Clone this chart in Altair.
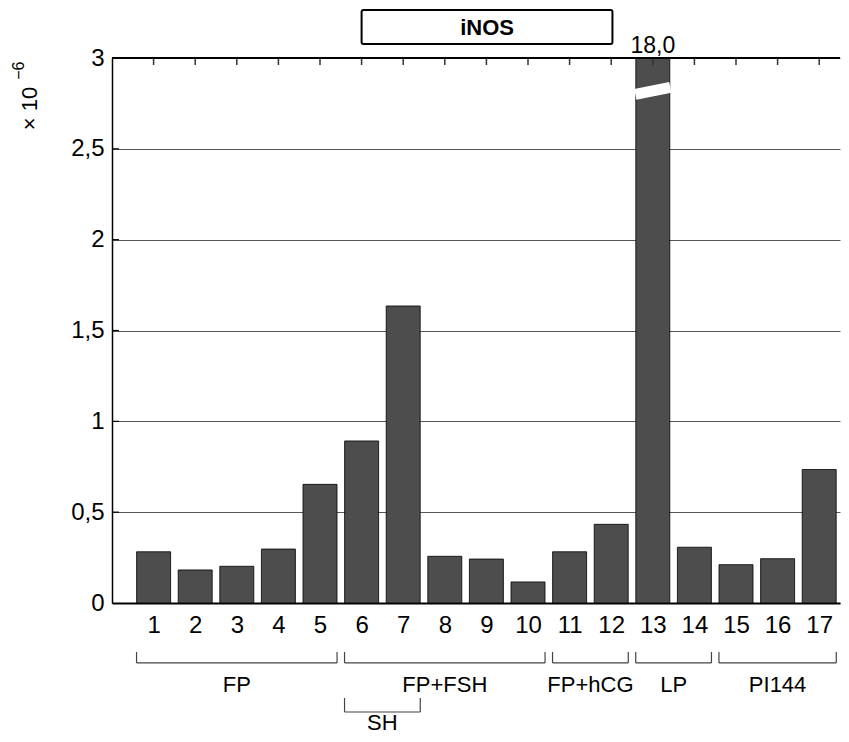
import altair as alt
import pandas as pd

# ---------------- data ----------------
bar_labels = list(range(1, 18))
values = [0.282, 0.182, 0.202, 0.297, 0.653, 0.892, 1.635, 0.257, 0.242,
          0.116, 0.282, 0.433, 18.0, 0.307, 0.211, 0.244, 0.735]
y_ticks = [0, 0.5, 1, 1.5, 2, 2.5, 3]

groups = ["FP", "FP+FSH", "FP+hCG", "LP", "PI144", "SH"]
group_start = [1, 6, 11, 13, 15, 6]
group_end = [5, 10, 12, 14, 17, 7]
group_level = [1, 1, 1, 1, 1, 2]

title_text = "iNOS"
y_unit = "× 10"
y_exp = "−6"

# ---------------- layout constants (data-space) ----------------
X_MAX = 17.5
Y_MAX = 3
BAR_HALF = 0.41
TOP_TICK = 0.0385
LEFT_TICK = 0.168
BREAK_X = [12.58, 13.42]
BREAK_Y = [2.800, 2.838]
LVL1 = (-0.330, -0.270, -0.451)
LVL2 = (-0.600, -0.523, -0.660)
TITLE_BOX = (6, 12.03, 3.077, 3.264)

FONT = "Liberation Sans"

xs = alt.Scale(domain=[0, X_MAX], nice=False, zero=False, padding=0)
ys = alt.Scale(domain=[0, Y_MAX], nice=False, zero=False, padding=0)

bars_df = pd.DataFrame({"n": bar_labels, "value": values})

bars = alt.Chart(bars_df).transform_calculate(
    shown=f"min(datum.value, {Y_MAX})"
).mark_bar(size=34, fill="#4d4d4d", stroke="black", strokeWidth=0.8).encode(
    x=alt.X("n:Q", scale=xs, title=None, axis=alt.Axis(
        values=bar_labels, format="d", ticks=False, tickSize=0, grid=False,
        domainColor="black", domainWidth=2, labelFontSize=24, labelPadding=10,
        labelFlush=False, labelOverlap=False, labelColor="black")),
    y=alt.Y("shown:Q", scale=ys, title=None, axis=alt.Axis(
        values=y_ticks, format="~g", labelExpr="replace(datum.label, '.', ',')",
        ticks=False, tickSize=0, labelPadding=8, grid=True, gridColor="#555",
        gridWidth=1, domainColor="black", domainWidth=1.5, labelFontSize=24,
        labelFlush=False, labelOverlap=False, labelColor="black")),
)

brk = alt.Chart(pd.DataFrame({"x": BREAK_X, "y": BREAK_Y})).mark_line(
    color="white", strokeWidth=11, strokeCap="butt"
).encode(x="x:Q", y="y:Q")

big_label = alt.Chart(bars_df).transform_filter(
    f"datum.value > {Y_MAX}"
).transform_calculate(
    txt="replace(format(datum.value, '.1f'), '.', ',')", top=str(Y_MAX)
).mark_text(fontSize=23, baseline="alphabetic", dy=-5, color="black").encode(
    x="n:Q", y="top:Q", text="txt:N")

top_ticks = alt.Chart(pd.DataFrame({"n": bar_labels})).transform_calculate(
    y0=str(Y_MAX), y1=f"{Y_MAX} - {TOP_TICK}"
).mark_rule(color="#333", strokeWidth=1.5).encode(
    x="n:Q", y="y0:Q", y2="y1:Q")

left_ticks = alt.Chart(pd.DataFrame({"v": y_ticks[1:-1]})).transform_calculate(
    x0="0", x1=str(LEFT_TICK)
).mark_rule(color="black", strokeWidth=1.2).encode(
    x="x0:Q", x2="x1:Q", y="v:Q")

top_line = alt.Chart(pd.DataFrame({"x0": [0], "x1": [X_MAX], "y": [Y_MAX]})).mark_rule(
    color="black", strokeWidth=2
).encode(x="x0:Q", x2="x1:Q", y="y:Q")

gdf = pd.DataFrame({"g": groups, "s": group_start, "e": group_end, "lvl": group_level})
gbase = alt.Chart(gdf).transform_calculate(
    x0=f"datum.s - {BAR_HALF}", x1=f"datum.e + {BAR_HALF}",
    xm="(datum.s + datum.e) / 2",
    yb=f"datum.lvl == 1 ? {LVL1[0]} : {LVL2[0]}",
    yt=f"datum.lvl == 1 ? {LVL1[1]} : {LVL2[1]}",
    yl=f"datum.lvl == 1 ? {LVL1[2]} : {LVL2[2]}",
)
rule_style = dict(color="#444", strokeWidth=1.2)
g_h = gbase.mark_rule(**rule_style).encode(x="x0:Q", x2="x1:Q", y="yb:Q")
g_l = gbase.mark_rule(**rule_style).encode(x="x0:Q", y="yb:Q", y2="yt:Q")
g_r = gbase.mark_rule(**rule_style).encode(x="x1:Q", y="yb:Q", y2="yt:Q")
g_t = gbase.mark_text(fontSize=22, baseline="middle", color="black").encode(
    x="xm:Q", y="yl:Q", text="g:N")

tb = pd.DataFrame({"x0": [TITLE_BOX[0]], "x1": [TITLE_BOX[1]],
                   "y0": [TITLE_BOX[2]], "y1": [TITLE_BOX[3]], "t": [title_text]})
t_rect = alt.Chart(tb).mark_rect(fill="white", stroke="black", strokeWidth=2,
                                 cornerRadius=2).encode(
    x="x0:Q", x2="x1:Q", y="y0:Q", y2="y1:Q")
t_text = alt.Chart(tb).transform_calculate(
    xm="(datum.x0 + datum.x1) / 2", ym="(datum.y0 + datum.y1) / 2 - 0.004"
).mark_text(fontSize=22, fontWeight="bold", baseline="middle", color="black").encode(
    x="xm:Q", y="ym:Q", text="t:N")

yt_df = pd.DataFrame({"t": [y_unit, y_exp], "x": [-1.97, -2.24], "y": [2.722, 2.93]})
y_unit_txt = alt.Chart(yt_df.iloc[[0]]).mark_text(
    angle=270, fontSize=22, baseline="middle", align="center", color="black").encode(
    x="x:Q", y="y:Q", text="t:N")
y_exp_txt = alt.Chart(yt_df.iloc[[1]]).mark_text(
    angle=270, fontSize=16, baseline="middle", align="center", color="black").encode(
    x="x:Q", y="y:Q", text="t:N")

chart = alt.layer(
    bars, brk, big_label, top_ticks, left_ticks, top_line,
    g_h, g_l, g_r, g_t, t_rect, t_text, y_unit_txt, y_exp_txt
).properties(
    width=728, height=545,
    padding={"left": 2, "top": 1, "right": 0, "bottom": 0},
).configure(font=FONT).configure_view(stroke=None)

chart.save("out.html", embed_options={"renderer": "svg", "actions": False})
